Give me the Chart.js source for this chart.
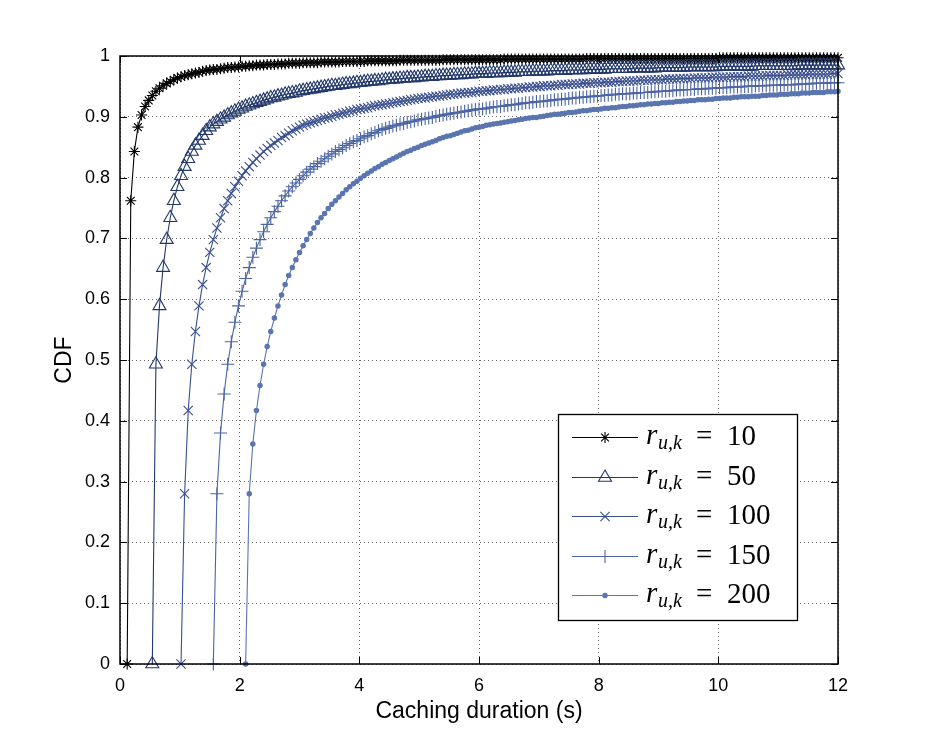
<!DOCTYPE html>
<html>
<head>
<meta charset="utf-8">
<script src="https://cdn.jsdelivr.net/npm/chart.js@4.4.1/dist/chart.umd.min.js"></script>
<style>
  html, body { margin: 0; padding: 0; background: #ffffff; }
  canvas { display: block; }
</style>
</head>
<body>
<canvas id="c" width="925" height="748"></canvas>
<script>
// ---- data ----
const xTicks = [0, 2, 4, 6, 8, 10, 12];
const xTickLabels = ['0', '2', '4', '6', '8', '10', '12'];
const yTicks = [0, 0.1, 0.2, 0.3, 0.4, 0.5, 0.6, 0.7, 0.8, 0.9, 1];
const yTickLabels = ['0', '0.1', '0.2', '0.3', '0.4', '0.5', '0.6', '0.7', '0.8', '0.9', '1'];
const xTitle = 'Caching duration (s)';
const yTitle = 'CDF';

const rates = [10, 50, 100, 150, 200];

// sample times (s) of the markers
const durations = [
  0.12,0.18,0.24,0.3,0.36,0.42,0.48,0.54,0.6,0.66,
  0.72,0.78,0.84,0.9,0.96,1.02,1.08,1.14,1.2,1.26,
  1.32,1.38,1.44,1.5,1.56,1.62,1.68,1.74,1.8,1.86,
  1.92,1.98,2.04,2.1,2.16,2.22,2.28,2.34,2.4,2.46,
  2.52,2.58,2.64,2.7,2.76,2.82,2.88,2.94,3,3.06,
  3.12,3.18,3.24,3.3,3.36,3.42,3.48,3.54,3.6,3.66,
  3.72,3.78,3.84,3.9,3.96,4.02,4.08,4.14,4.2,4.26,
  4.32,4.38,4.44,4.5,4.56,4.62,4.68,4.74,4.8,4.86,
  4.92,4.98,5.04,5.1,5.16,5.22,5.28,5.34,5.4,5.46,
  5.52,5.58,5.64,5.7,5.76,5.82,5.88,5.94,6,6.06,
  6.12,6.18,6.24,6.3,6.36,6.42,6.48,6.54,6.6,6.66,
  6.72,6.78,6.84,6.9,6.96,7.02,7.08,7.14,7.2,7.26,
  7.32,7.38,7.44,7.5,7.56,7.62,7.68,7.74,7.8,7.86,
  7.92,7.98,8.04,8.1,8.16,8.22,8.28,8.34,8.4,8.46,
  8.52,8.58,8.64,8.7,8.76,8.82,8.88,8.94,9,9.06,
  9.12,9.18,9.24,9.3,9.36,9.42,9.48,9.54,9.6,9.66,
  9.72,9.78,9.84,9.9,9.96,10.02,10.08,10.14,10.2,10.26,
  10.32,10.38,10.44,10.5,10.56,10.62,10.68,10.74,10.8,10.86,
  10.92,10.98,11.04,11.1,11.16,11.22,11.28,11.34,11.4,11.46,
  11.52,11.58,11.64,11.7,11.76,11.82,11.88,11.94,12
];

// first sample time of each curve (the minimum caching duration)
const startTimes = [0.12, 0.54, 1.02, 1.56, 2.1];

// CDF values, r_{u,k} = 10
const cdf10 = [
  0,0.762,0.843,0.883,0.903,0.917,0.927,0.935,0.942,0.947,
  0.951,0.955,0.958,0.961,0.964,0.966,0.968,0.969,0.971,0.972,
  0.973,0.975,0.976,0.977,0.978,0.978,0.979,0.980,0.981,0.981,
  0.982,0.982,0.983,0.983,0.984,0.984,0.985,0.985,0.985,0.986,
  0.986,0.986,0.987,0.987,0.987,0.988,0.988,0.988,0.988,0.989,
  0.989,0.989,0.989,0.989,0.990,0.990,0.990,0.990,0.990,0.990,
  0.991,0.991,0.991,0.991,0.991,0.991,0.991,0.992,0.992,0.992,
  0.992,0.992,0.992,0.992,0.992,0.992,0.993,0.993,0.993,0.993,
  0.993,0.993,0.993,0.993,0.993,0.993,0.993,0.993,0.994,0.994,
  0.994,0.994,0.994,0.994,0.994,0.994,0.994,0.994,0.994,0.994,
  0.994,0.994,0.994,0.994,0.994,0.995,0.995,0.995,0.995,0.995,
  0.995,0.995,0.995,0.995,0.995,0.995,0.995,0.995,0.995,0.995,
  0.995,0.995,0.995,0.995,0.995,0.995,0.995,0.995,0.996,0.996,
  0.996,0.996,0.996,0.996,0.996,0.996,0.996,0.996,0.996,0.996,
  0.996,0.996,0.996,0.996,0.996,0.996,0.996,0.996,0.996,0.996,
  0.996,0.996,0.996,0.996,0.996,0.996,0.996,0.996,0.996,0.996,
  0.996,0.996,0.996,0.996,0.996,0.997,0.997,0.997,0.997,0.997,
  0.997,0.997,0.997,0.997,0.997,0.997,0.997,0.997,0.997,0.997,
  0.997,0.997,0.997,0.997,0.997,0.997,0.997,0.997,0.997,0.997,
  0.997,0.997,0.997,0.997,0.997,0.997,0.997,0.997,0.997
];

// CDF values, r_{u,k} = 50
const cdf50 = [
  0,0.493,0.589,
  0.652,0.698,0.734,0.762,0.785,0.803,0.818,0.831,0.843,0.853,
  0.861,0.869,0.877,0.883,0.888,0.892,0.896,0.899,0.903,0.906,
  0.909,0.912,0.914,0.917,0.919,0.921,0.923,0.925,0.927,0.929,
  0.931,0.932,0.934,0.935,0.937,0.938,0.939,0.940,0.942,0.943,
  0.944,0.945,0.946,0.947,0.948,0.949,0.950,0.951,0.951,0.952,
  0.953,0.954,0.954,0.955,0.956,0.956,0.957,0.958,0.958,0.959,
  0.959,0.960,0.961,0.961,0.962,0.962,0.963,0.963,0.964,0.964,
  0.964,0.965,0.965,0.966,0.966,0.966,0.967,0.967,0.968,0.968,
  0.968,0.969,0.969,0.969,0.970,0.970,0.970,0.971,0.971,0.971,
  0.971,0.972,0.972,0.972,0.972,0.973,0.973,0.973,0.973,0.974,
  0.974,0.974,0.974,0.975,0.975,0.975,0.975,0.975,0.976,0.976,
  0.976,0.976,0.976,0.977,0.977,0.977,0.977,0.977,0.978,0.978,
  0.978,0.978,0.978,0.978,0.979,0.979,0.979,0.979,0.979,0.979,
  0.979,0.980,0.980,0.980,0.980,0.980,0.980,0.980,0.981,0.981,
  0.981,0.981,0.981,0.981,0.981,0.981,0.982,0.982,0.982,0.982,
  0.982,0.982,0.982,0.982,0.982,0.983,0.983,0.983,0.983,0.983,
  0.983,0.983,0.983,0.983,0.983,0.984,0.984,0.984,0.984,0.984,
  0.984,0.984,0.984,0.984,0.984,0.984,0.984,0.985,0.985,0.985,
  0.985,0.985,0.985,0.985,0.985,0.985,0.985,0.985,0.985
];

// CDF values, r_{u,k} = 100
const cdf100 = [
  0,0.280,0.417,0.493,0.547,
  0.589,0.624,0.652,0.677,0.698,0.717,0.734,0.749,0.762,0.774,
  0.785,0.794,0.803,0.811,0.818,0.825,0.831,0.837,0.843,0.848,
  0.853,0.857,0.861,0.866,0.869,0.873,0.877,0.880,0.883,0.886,
  0.888,0.890,0.892,0.894,0.896,0.898,0.899,0.901,0.903,0.904,
  0.906,0.907,0.909,0.910,0.912,0.913,0.914,0.915,0.917,0.918,
  0.919,0.920,0.921,0.922,0.923,0.924,0.925,0.926,0.927,0.928,
  0.929,0.930,0.931,0.931,0.932,0.933,0.934,0.934,0.935,0.936,
  0.937,0.937,0.938,0.939,0.939,0.940,0.940,0.941,0.942,0.942,
  0.943,0.943,0.944,0.944,0.945,0.945,0.946,0.946,0.947,0.947,
  0.948,0.948,0.949,0.949,0.950,0.950,0.951,0.951,0.951,0.952,
  0.952,0.953,0.953,0.953,0.954,0.954,0.954,0.955,0.955,0.955,
  0.956,0.956,0.956,0.957,0.957,0.957,0.958,0.958,0.958,0.959,
  0.959,0.959,0.959,0.960,0.960,0.960,0.961,0.961,0.961,0.961,
  0.962,0.962,0.962,0.962,0.963,0.963,0.963,0.963,0.964,0.964,
  0.964,0.964,0.964,0.965,0.965,0.965,0.965,0.965,0.966,0.966,
  0.966,0.966,0.966,0.967,0.967,0.967,0.967,0.967,0.968,0.968,
  0.968,0.968,0.968,0.968,0.969,0.969,0.969,0.969,0.969,0.969,
  0.970,0.970,0.970,0.970,0.970,0.970,0.971,0.971,0.971
];

// CDF values, r_{u,k} = 150
const cdf150 = [
  0,0.280,0.380,0.444,0.493,0.530,
  0.562,0.589,0.613,0.634,0.652,0.669,0.684,0.698,0.711,0.723,
  0.734,0.744,0.753,0.762,0.770,0.778,0.785,0.791,0.797,0.803,
  0.809,0.814,0.818,0.823,0.827,0.831,0.835,0.839,0.843,0.846,
  0.849,0.853,0.856,0.859,0.861,0.864,0.867,0.869,0.872,0.874,
  0.877,0.879,0.881,0.883,0.885,0.886,0.888,0.889,0.891,0.892,
  0.893,0.895,0.896,0.897,0.898,0.899,0.901,0.902,0.903,0.904,
  0.905,0.906,0.907,0.908,0.909,0.910,0.911,0.912,0.913,0.913,
  0.914,0.915,0.916,0.917,0.917,0.918,0.919,0.920,0.920,0.921,
  0.922,0.923,0.923,0.924,0.925,0.925,0.926,0.926,0.927,0.928,
  0.928,0.929,0.929,0.930,0.931,0.931,0.932,0.932,0.933,0.933,
  0.934,0.934,0.935,0.935,0.936,0.936,0.937,0.937,0.938,0.938,
  0.938,0.939,0.939,0.940,0.940,0.940,0.941,0.941,0.942,0.942,
  0.942,0.943,0.943,0.944,0.944,0.944,0.945,0.945,0.945,0.946,
  0.946,0.946,0.947,0.947,0.947,0.948,0.948,0.948,0.949,0.949,
  0.949,0.949,0.950,0.950,0.950,0.951,0.951,0.951,0.951,0.952,
  0.952,0.952,0.952,0.953,0.953,0.953,0.953,0.954,0.954,0.954,
  0.954,0.955,0.955,0.955,0.955,0.956,0.956,0.956,0.956
];

// CDF values, r_{u,k} = 200
const cdf200 = [
  0,0.280,0.362,0.417,0.458,0.493,0.522,
  0.547,0.569,0.589,0.607,0.624,0.639,0.652,0.665,0.677,0.688,
  0.698,0.708,0.717,0.726,0.734,0.741,0.749,0.756,0.762,0.768,
  0.774,0.780,0.785,0.790,0.794,0.799,0.803,0.807,0.811,0.815,
  0.818,0.822,0.825,0.828,0.831,0.834,0.837,0.840,0.843,0.845,
  0.848,0.850,0.853,0.855,0.857,0.859,0.861,0.864,0.866,0.868,
  0.869,0.871,0.873,0.875,0.877,0.878,0.880,0.882,0.883,0.884,
  0.886,0.887,0.888,0.889,0.890,0.891,0.892,0.893,0.894,0.895,
  0.896,0.897,0.898,0.899,0.899,0.900,0.901,0.902,0.903,0.904,
  0.904,0.905,0.906,0.907,0.907,0.908,0.909,0.910,0.910,0.911,
  0.912,0.912,0.913,0.914,0.914,0.915,0.915,0.916,0.917,0.917,
  0.918,0.918,0.919,0.920,0.920,0.921,0.921,0.922,0.922,0.923,
  0.923,0.924,0.924,0.925,0.925,0.926,0.926,0.927,0.927,0.928,
  0.928,0.928,0.929,0.929,0.930,0.930,0.931,0.931,0.931,0.932,
  0.932,0.933,0.933,0.933,0.934,0.934,0.934,0.935,0.935,0.936,
  0.936,0.936,0.937,0.937,0.937,0.938,0.938,0.938,0.939,0.939,
  0.939,0.940,0.940,0.940,0.940,0.941,0.941,0.941,0.942
];

const seriesValues = [cdf10, cdf50, cdf100, cdf150, cdf200];

// ---- styling ----
const colors = ['#000000', '#22386b', '#394f8e', '#4a64a4', '#5a75b0'];
const markerStyles = ['star', 'triangle', 'crossRot', 'cross', 'circle'];
const markerRadius = [5.5, 7.5, 6.5, 6.5, 2.2];
const markerFill = ['rgba(0,0,0,0)', 'rgba(0,0,0,0)', 'rgba(0,0,0,0)', 'rgba(0,0,0,0)', '#5a75b0'];

function toPoints(start, values) {
  const i0 = durations.findIndex(d => Math.abs(d - start) < 1e-9);
  const pts = [];
  values.forEach((v, i) => {
    const t = durations[i0 + i];
    if (t !== undefined) pts.push({ x: t, y: v });
  });
  return pts;
}

const datasets = rates.map((r, i) => ({
  label: 'r_{u,k} = ' + r,
  data: toPoints(startTimes[i], seriesValues[i]),
  showLine: true,
  borderColor: colors[i],
  borderWidth: 1.1,
  tension: 0,
  pointStyle: markerStyles[i],
  pointRadius: markerRadius[i],
  pointBorderColor: colors[i],
  pointBackgroundColor: markerFill[i],
  pointBorderWidth: 1.1,
  clip: false,
  order: rates.length - i
}));

const AX_FONT = '"Liberation Sans", Arial, Helvetica, sans-serif';
const SERIF = '"Liberation Serif", "DejaVu Serif", serif';

function drawMarker(ctx, style, radius, x, y) {
  if (Chart.helpers && Chart.helpers.drawPoint) {
    Chart.helpers.drawPoint(ctx, { pointStyle: style, radius: radius, rotation: 0, borderWidth: 1.1 }, x, y);
    return;
  }
  ctx.beginPath();
  if (style === 'circle') { ctx.arc(x, y, radius, 0, Math.PI * 2); ctx.fill(); }
  else if (style === 'triangle') {
    for (let k = 0; k < 3; k++) {
      const a = k * 2 * Math.PI / 3;
      const px = x + Math.sin(a) * radius, py = y - Math.cos(a) * radius;
      if (k === 0) ctx.moveTo(px, py); else ctx.lineTo(px, py);
    }
    ctx.closePath();
  } else {
    const d = radius * Math.SQRT1_2;
    if (style === 'cross' || style === 'star') { ctx.moveTo(x - radius, y); ctx.lineTo(x + radius, y); ctx.moveTo(x, y - radius); ctx.lineTo(x, y + radius); }
    if (style === 'crossRot' || style === 'star') { ctx.moveTo(x - d, y - d); ctx.lineTo(x + d, y + d); ctx.moveTo(x - d, y + d); ctx.lineTo(x + d, y - d); }
  }
  ctx.stroke();
}

const backgroundPlugin = {
  id: 'whiteBg',
  beforeDraw(chart) {
    const ctx = chart.ctx;
    ctx.save();
    ctx.fillStyle = '#ffffff';
    ctx.fillRect(0, 0, chart.width, chart.height);
    ctx.restore();
  }
};

const framePlugin = {
  id: 'axesFrame',
  afterDatasetsDraw(chart) {
    const { ctx, chartArea: a, scales } = chart;
    const sx = scales.x, sy = scales.y;
    ctx.save();
    ctx.strokeStyle = '#000';
    ctx.lineWidth = 1;
    const L = 7;
    ctx.beginPath();
    xTicks.forEach(v => {
      const px = Math.round(sx.getPixelForValue(v)) + 0.5;
      ctx.moveTo(px, a.bottom); ctx.lineTo(px, a.bottom - L);
      ctx.moveTo(px, a.top); ctx.lineTo(px, a.top + L);
    });
    yTicks.forEach(v => {
      const py = Math.round(sy.getPixelForValue(v)) + 0.5;
      ctx.moveTo(a.left, py); ctx.lineTo(a.left + L, py);
      ctx.moveTo(a.right, py); ctx.lineTo(a.right - L, py);
    });
    ctx.stroke();
    ctx.lineWidth = 1.5;
    ctx.strokeRect(a.left, a.top, a.right - a.left, a.bottom - a.top);
    ctx.restore();
  }
};

const legendPlugin = {
  id: 'mathLegend',
  afterDraw(chart) {
    const ctx = chart.ctx;
    ctx.save();
    const bx = 558, by = 414, bw = 239, bh = 206;
    ctx.fillStyle = '#ffffff';
    ctx.fillRect(bx, by, bw, bh);
    ctx.strokeStyle = '#000';
    ctx.lineWidth = 1.3;
    ctx.strokeRect(bx + 0.5, by + 0.5, bw, bh);
    chart.data.datasets.forEach((ds, i) => {
      const y = Math.round(437 + i * 39.5) + 0.5;
      ctx.strokeStyle = ds.borderColor;
      ctx.lineWidth = 1;
      ctx.beginPath();
      ctx.moveTo(572, y); ctx.lineTo(638, y);
      ctx.stroke();
      ctx.fillStyle = ds.pointBackgroundColor;
      ctx.strokeStyle = ds.pointBorderColor;
      ctx.lineWidth = 1.1;
      drawMarker(ctx, ds.pointStyle, ds.pointRadius, 605, y);
      ctx.fillStyle = '#000';
      ctx.textAlign = 'left';
      ctx.textBaseline = 'alphabetic';
      ctx.font = 'italic 29px ' + SERIF;
      ctx.fillText('r', 646, y + 6.5);
      ctx.font = 'italic 20px ' + SERIF;
      ctx.fillText('u,k', 658, y + 11);
      ctx.font = '29px ' + SERIF;
      ctx.fillText('=', 696, y + 7);
      ctx.fillText(String(rates[i]), 727, y + 7);
    });
    ctx.restore();
  }
};

new Chart(document.getElementById('c'), {
  type: 'scatter',
  data: { datasets },
  options: {
    responsive: false,
    animation: false,
    devicePixelRatio: 1,
    events: [],
    layout: { padding: { left: 0, right: 87, top: 56, bottom: 0 } },
    plugins: { legend: { display: false }, tooltip: { enabled: false } },
    scales: {
      x: {
        type: 'linear',
        min: 0, max: 12,
        afterBuildTicks: s => { s.ticks = xTicks.map(v => ({ value: v })); },
        afterFit: s => { s.height = 84; },
        grid: { color: '#666666', lineWidth: 1, drawTicks: false },
        border: { display: false, dash: [1, 3] },
        ticks: {
          color: '#000', padding: 11, maxRotation: 0, autoSkip: false,
          font: { family: AX_FONT, size: 18 },
          callback: v => xTickLabels[xTicks.indexOf(v)]
        },
        title: {
          display: true, text: xTitle, color: '#000',
          font: { family: AX_FONT, size: 23 },
          padding: { top: 0, bottom: 23 }
        }
      },
      y: {
        type: 'linear',
        min: 0, max: 1,
        afterBuildTicks: s => { s.ticks = yTicks.map(v => ({ value: v })); },
        afterFit: s => { s.width = 120; },
        grid: { color: '#666666', lineWidth: 1, drawTicks: false },
        border: { display: false, dash: [1, 3] },
        ticks: {
          color: '#000', padding: 10, autoSkip: false,
          font: { family: AX_FONT, size: 18 },
          callback: v => yTickLabels[yTicks.indexOf(v)]
        },
        title: {
          display: true, text: yTitle, color: '#000',
          font: { family: AX_FONT, size: 23 },
          padding: { top: 51, bottom: 0 }
        }
      }
    }
  },
  plugins: [backgroundPlugin, framePlugin, legendPlugin]
});
</script>
</body>
</html>
